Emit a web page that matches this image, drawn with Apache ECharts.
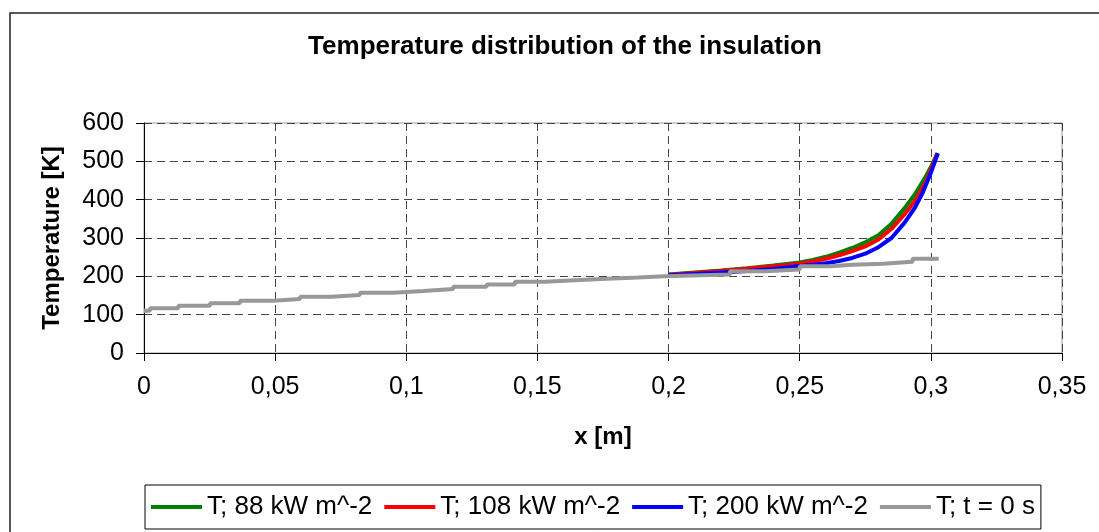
<!DOCTYPE html>
<html>
<head>
<meta charset="utf-8">
<title>Temperature distribution of the insulation</title>
<script src="https://cdn.jsdelivr.net/npm/echarts@6/dist/echarts.min.js"></script>
<style>
  html, body { margin: 0; padding: 0; background: #fff; }
  #chart { width: 1099px; height: 532px; }
</style>
</head>
<body>
<div id="chart"></div>
<script>
// x position [m] and temperature [K]
const greenX = [0.2, 0.21, 0.22, 0.23, 0.24, 0.25, 0.255, 0.26, 0.265, 0.27, 0.275, 0.28, 0.285, 0.29, 0.294, 0.298, 0.3, 0.3025];
const greenT = [205, 210, 215, 221, 228, 236, 243, 251, 262, 274, 289, 307, 337, 378, 415, 460, 485, 521];

const redX = [0.2, 0.21, 0.22, 0.23, 0.24, 0.25, 0.255, 0.26, 0.265, 0.27, 0.275, 0.28, 0.285, 0.29, 0.294, 0.298, 0.3, 0.3025];
const redT = [204, 209, 214, 220, 226, 233, 239, 246, 255, 266, 278, 296, 324, 362, 397, 445, 478, 521];

const blueX = [0.2, 0.21, 0.22, 0.23, 0.24, 0.25, 0.255, 0.26, 0.265, 0.27, 0.275, 0.28, 0.285, 0.29, 0.294, 0.297, 0.3, 0.3027];
const blueT = [203, 206, 210, 214, 219, 227, 230, 234, 240, 248, 259, 276, 300, 340, 380, 420, 470, 521];

// initial profile (t = 0 s), stair steps
const grayX = [0, 0.0023, 0.0131, 0.0252, 0.0366, 0.0493, 0.0595, 0.0715, 0.0823, 0.095, 0.1065, 0.1179, 0.1306, 0.1414, 0.1529, 0.1643, 0.1764, 0.1884, 0.1986, 0.2234, 0.237, 0.25, 0.262, 0.27, 0.2817, 0.293, 0.303];
const grayT = [110, 117, 123, 130, 136, 141, 147, 151, 157, 162, 167, 173, 179, 186, 190, 194, 197, 200, 205, 213, 218, 226, 230, 233, 238, 246, 247];

const seriesNames = ['T; 88 kW m^-2', 'T; 108 kW m^-2', 'T; 200 kW m^-2', 'T; t = 0 s'];
const seriesColors = ['#008000', '#ff0000', '#0000ff', '#989898'];

const xTicks = { min: 0, max: 0.35, step: 0.05 };
const yTicks = { min: 0, max: 600, step: 100 };

function pairs(xs, ys) {
  return xs.map((x, i) => [x, ys[i]]);
}

const font = 'Liberation Sans, Arial, sans-serif';

function lineSeries(idx, data, step) {
  return {
    name: seriesNames[idx],
    type: 'line',
    data: data,
    step: step || false,
    symbol: 'none',
    smooth: false,
    color: seriesColors[idx],
    lineStyle: { color: seriesColors[idx], width: 4 },
    emphasis: { disabled: true }
  };
}

const option = {
  animation: false,
  backgroundColor: '#fff',
  textStyle: { fontFamily: font, color: '#000' },
  title: {
    text: 'Temperature distribution of the insulation',
    left: 560,
    top: 29,
    textAlign: 'center',
    textStyle: { fontFamily: font, fontSize: 26, fontWeight: 'bold', color: '#000' }
  },
  graphic: [
    {
      type: 'rect',
      shape: { x: 10, y: 13, width: 1200, height: 700 },
      style: { fill: 'none', stroke: '#222', lineWidth: 1.5 },
      silent: true,
      z: -10
    }
  ],
  legend: {
    left: 145,
    top: 485,
    padding: [9, 6],
    itemGap: 12,
    itemWidth: 51,
    itemHeight: 4,
    icon: 'rect',
    borderColor: '#000',
    borderWidth: 1,
    backgroundColor: '#fff',
    textStyle: { fontFamily: font, fontSize: 26, color: '#000' },
    data: seriesNames
  },
  grid: {
    left: 144,
    right: 37,
    top: 123,
    bottom: 179,
    show: true,
    borderColor: '#999',
    borderWidth: 1
  },
  xAxis: {
    type: 'value',
    min: xTicks.min,
    max: xTicks.max,
    interval: xTicks.step,
    name: 'x [m]',
    nameLocation: 'middle',
    nameGap: 72,
    nameTextStyle: { fontFamily: font, fontSize: 24, fontWeight: 'bold', color: '#000' },
    axisLine: { show: true, lineStyle: { color: '#000', width: 1 } },
    axisTick: { show: true, length: 8, lineStyle: { color: '#000' } },
    axisLabel: {
      margin: 22,
      fontFamily: font,
      fontSize: 25,
      color: '#000',
      formatter: v => String(Math.round(v * 100) / 100).replace('.', ',')
    },
    splitLine: { show: true, lineStyle: { color: '#444', type: [8, 5], width: 1 } }
  },
  yAxis: {
    type: 'value',
    min: yTicks.min,
    max: yTicks.max,
    interval: yTicks.step,
    name: 'Temperature [K]',
    nameLocation: 'middle',
    nameGap: 80,
    nameTextStyle: { fontFamily: font, fontSize: 24, fontWeight: 'bold', color: '#000' },
    axisLine: { show: true, lineStyle: { color: '#000', width: 1 } },
    axisTick: { show: true, length: 8, lineStyle: { color: '#000' } },
    axisLabel: { margin: 20, fontFamily: font, fontSize: 25, color: '#000' },
    splitLine: { show: true, lineStyle: { color: '#444', type: [8, 5], width: 1 } }
  },
  series: [
    lineSeries(0, pairs(greenX, greenT)),
    lineSeries(1, pairs(redX, redT)),
    lineSeries(2, pairs(blueX, blueT)),
    lineSeries(3, pairs(grayX, grayT), 'end')
  ]
};

const chart = echarts.init(document.getElementById('chart'), null, { renderer: 'canvas' });
chart.setOption(option);
</script>
</body>
</html>
